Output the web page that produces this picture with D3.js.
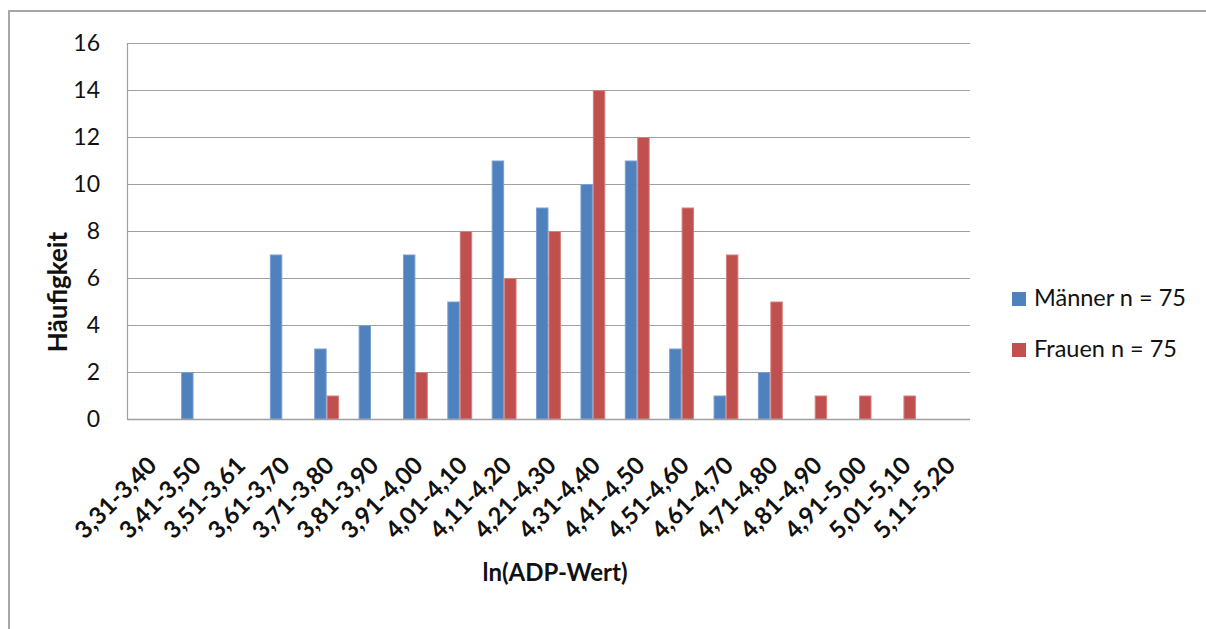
<!DOCTYPE html>
<html>
<head>
<meta charset="utf-8">
<script src="https://cdn.jsdelivr.net/npm/d3@7"></script>
<style>
  body { margin: 0; background: #fff; }
  svg { display: block; font-family: Lato, "Open Sans", sans-serif; }
</style>
</head>
<body>
<svg id="chart" width="1206" height="629"></svg>
<script>
// categories (class intervals of ln(ADP))
var categories = ["3,31-3,40", "3,41-3,50", "3,51-3,61", "3,61-3,70", "3,71-3,80",
  "3,81-3,90", "3,91-4,00", "4,01-4,10", "4,11-4,20", "4,21-4,30", "4,31-4,40",
  "4,41-4,50", "4,51-4,60", "4,61-4,70", "4,71-4,80", "4,81-4,90", "4,91-5,00",
  "5,01-5,10", "5,11-5,20"];

var maenner = [0, 2, 0, 7, 3, 4, 7, 5, 11, 9, 10, 11, 3, 1, 2, 0, 0, 0, 0];
var frauen  = [0, 0, 0, 0, 1, 0, 2, 8, 6, 8, 14, 12, 9, 7, 5, 1, 1, 1, 0];

var seriesNames = ["Männer n = 75", "Frauen n = 75"];
var yTicks = [0, 2, 4, 6, 8, 10, 12, 14, 16];

var colors = ["#4F81BD", "#C0504D"];
var strokes = ["#7A9FD0", "#D47F7D"];

var svg = d3.select("#chart");

// outer frame (cut off at right and bottom)
svg.append("path")
  .attr("d", "M9,629 L9,11 L1206,11")
  .attr("fill", "none")
  .attr("stroke", "#A6A6A6")
  .attr("stroke-width", 2);

var plot = { left: 127, right: 970, top: 43, bottom: 419 };

var x = d3.scaleBand()
  .domain(categories)
  .range([plot.left, plot.right])
  .paddingInner(0.44)
  .paddingOuter(0.22);

var xSub = d3.scaleBand()
  .domain([0, 1])
  .range([0, x.bandwidth()]);

var y = d3.scaleLinear()
  .domain([0, 16])
  .range([plot.bottom, plot.top]);

// gridlines
svg.append("g")
  .selectAll("line")
  .data(yTicks.filter(function (d) { return d > 0; }))
  .join("line")
  .attr("x1", plot.left)
  .attr("x2", plot.right)
  .attr("y1", function (d) { return y(d) + 0.5; })
  .attr("y2", function (d) { return y(d) + 0.5; })
  .attr("stroke", "#A0A0A0")
  .attr("stroke-width", 1.2);

// y axis
var yAxis = svg.append("g")
  .attr("transform", "translate(" + plot.left + ",0)")
  .call(d3.axisLeft(y).tickValues(yTicks).tickSize(0).tickPadding(27));
yAxis.select(".domain").remove();
yAxis.selectAll("text")
  .attr("font-size", 23)
  .attr("font-family", "Lato, sans-serif")
  .attr("fill", "#111");

svg.append("line")
  .attr("x1", plot.left + 0.5).attr("x2", plot.left + 0.5)
  .attr("y1", plot.top).attr("y2", plot.bottom)
  .attr("stroke", "#A0A0A0").attr("stroke-width", 1.2);

// bars
var series = [maenner, frauen];
series.forEach(function (vals, si) {
  svg.append("g")
    .selectAll("rect")
    .data(vals.map(function (v, i) { return { cat: categories[i], v: v }; })
      .filter(function (d) { return d.v > 0; }))
    .join("rect")
    .attr("x", function (d) { return x(d.cat) + xSub(si) + 0.5; })
    .attr("y", function (d) { return y(d.v) + 0.5; })
    .attr("width", xSub.bandwidth() - 1)
    .attr("height", function (d) { return plot.bottom - y(d.v) - 0.5; })
    .attr("fill", colors[si])
    .attr("stroke", strokes[si])
    .attr("stroke-width", 1);
});

// x axis line
svg.append("line")
  .attr("x1", plot.left).attr("x2", plot.right)
  .attr("y1", plot.bottom + 0.5).attr("y2", plot.bottom + 0.5)
  .attr("stroke", "#A0A0A0").attr("stroke-width", 1.5);

// x labels
var xAxis = svg.append("g")
  .attr("transform", "translate(0," + plot.bottom + ")")
  .call(d3.axisBottom(x).tickSize(0).tickPadding(0));
xAxis.select(".domain").remove();
xAxis.selectAll("text")
  .attr("font-size", 24)
  .attr("font-weight", "bold")
  .attr("font-family", "Lato, sans-serif")
  .attr("fill", "#111")
  .attr("text-anchor", "end")
  .attr("dy", null)
  .attr("y", 0)
  .attr("transform", "translate(9,48) rotate(-45)");

// axis titles
svg.append("text")
  .attr("x", 555)
  .attr("y", 581)
  .attr("text-anchor", "middle")
  .attr("font-size", 24)
  .attr("font-weight", "bold")
  .attr("fill", "#111")
  .text("ln(ADP-Wert)");

svg.append("text")
  .attr("transform", "translate(67,292) rotate(-90)")
  .attr("text-anchor", "middle")
  .attr("font-size", 26)
  .attr("font-weight", "bold")
  .attr("fill", "#111")
  .text("Häufigkeit");

// legend
var legend = svg.append("g")
  .selectAll("g")
  .data(seriesNames)
  .join("g")
  .attr("transform", function (d, i) { return "translate(1012," + (292 + i * 51) + ")"; });
legend.append("rect")
  .attr("width", 14).attr("height", 14)
  .attr("fill", function (d, i) { return colors[i]; });
legend.append("text")
  .attr("x", 22)
  .attr("y", 14)
  .attr("font-size", 23.5)
  .attr("fill", "#111")
  .text(function (d) { return d; });
</script>
</body>
</html>
